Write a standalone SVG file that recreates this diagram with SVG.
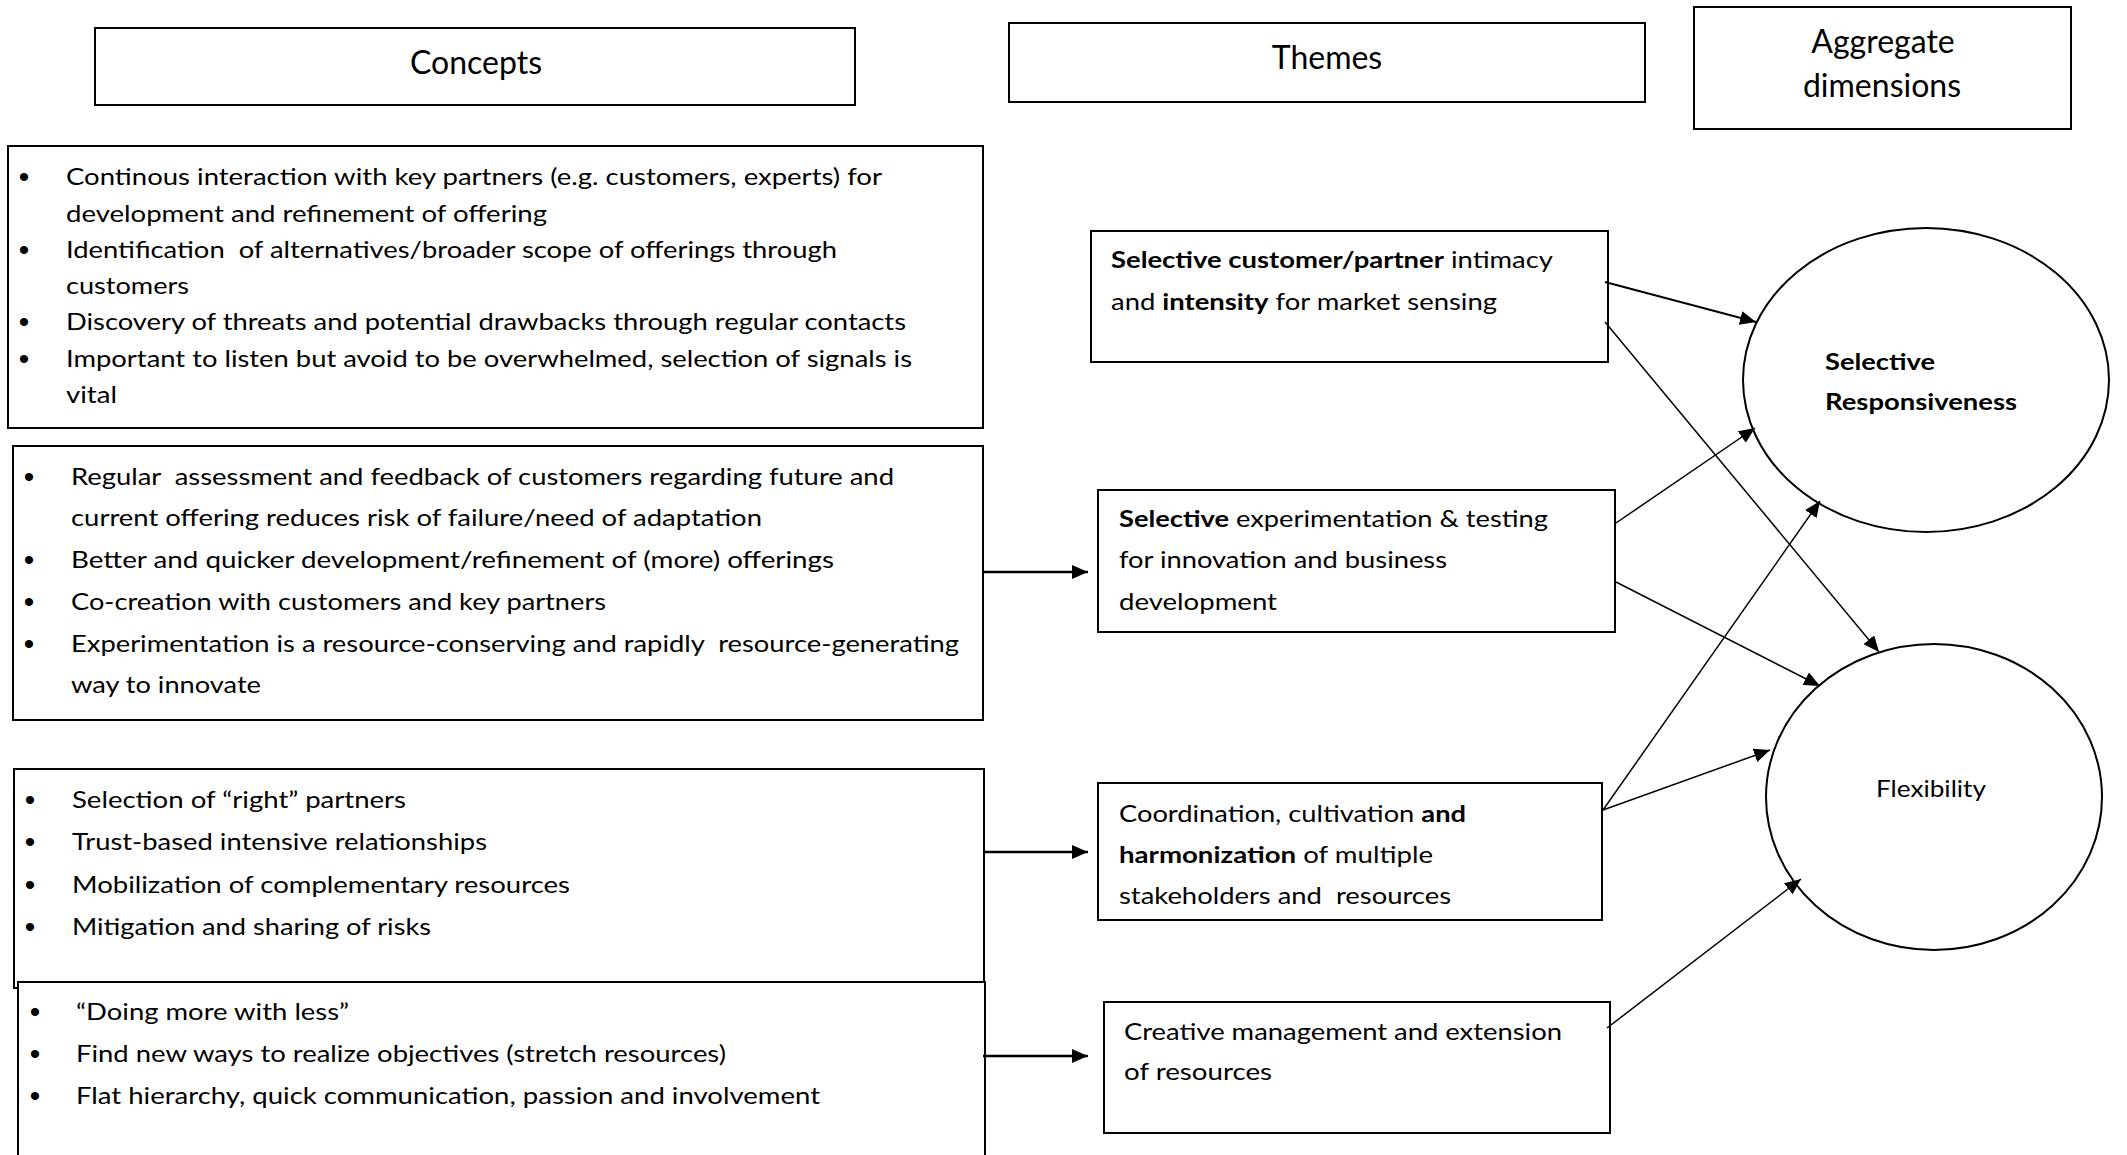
<svg xmlns="http://www.w3.org/2000/svg" width="2127" height="1155" viewBox="0 0 2127 1155">
<defs>
<marker id="ah" markerUnits="userSpaceOnUse" markerWidth="16" markerHeight="14" refX="16" refY="7" orient="auto"><path d="M0,0 L16,7 L0,14 z" fill="#000"/></marker>
<style>
.box{fill:none;stroke:#000;stroke-width:2}
.el{fill:none;stroke:#000;stroke-width:2}
text{font-family:Lato,"Open Sans","Liberation Sans",sans-serif;fill:#000}
.t{font-size:24px}
.th{font-size:23px}
.b{font-weight:bold}
.hd{font-size:32px;text-anchor:middle}
.bu{font-size:30px;text-anchor:middle;font-family:"Liberation Sans",sans-serif}
.c{stroke:#000;stroke-width:1.5;fill:none}
.ch{stroke:#000;stroke-width:2.5;fill:none}
</style>
</defs>
<rect x="0" y="0" width="2127" height="1155" fill="#fff"/>

<g id="hdr-concepts">
<rect class="box" x="95" y="28" width="760" height="77"/>
<text class="hd" x="476" y="74">Concepts</text>
</g>
<g id="hdr-themes">
<rect class="box" x="1009" y="23" width="636" height="79"/>
<text class="hd" x="1327" y="69">Themes</text>
</g>
<g id="hdr-aggregate">
<rect class="box" x="1694" y="7" width="377" height="122"/>
<text class="hd" x="1883" y="53">Aggregate</text>
<text class="hd" x="1882" y="97">dimensions</text>
</g>

<g id="concept1">
<rect class="box" x="8" y="146" width="975" height="282"/>
<text class="bu" x="24" y="187">•</text>
<text class="t" x="66" y="185" textLength="816" lengthAdjust="spacingAndGlyphs">Continous interaction with key partners (e.g. customers, experts) for</text>
<text class="t" x="66" y="222" textLength="481" lengthAdjust="spacingAndGlyphs">development and refinement of offering</text>
<text class="bu" x="24" y="260">•</text>
<text class="t" x="66" y="258" textLength="771" lengthAdjust="spacingAndGlyphs" xml:space="preserve">Identification  of alternatives/broader scope of offerings through</text>
<text class="t" x="66" y="294" textLength="123" lengthAdjust="spacingAndGlyphs">customers</text>
<text class="bu" x="24" y="332">•</text>
<text class="t" x="66" y="330" textLength="840" lengthAdjust="spacingAndGlyphs">Discovery of threats and potential drawbacks through regular contacts</text>
<text class="bu" x="24" y="369">•</text>
<text class="t" x="66" y="367" textLength="846" lengthAdjust="spacingAndGlyphs">Important to listen but avoid to be overwhelmed, selection of signals is</text>
<text class="t" x="66" y="403" textLength="51" lengthAdjust="spacingAndGlyphs">vital</text>
</g>

<g id="concept2">
<rect class="box" x="13" y="446" width="970" height="274"/>
<text class="bu" x="29" y="487">•</text>
<text class="t" x="71" y="485" textLength="823" lengthAdjust="spacingAndGlyphs" xml:space="preserve">Regular  assessment and feedback of customers regarding future and</text>
<text class="t" x="71" y="526" textLength="691" lengthAdjust="spacingAndGlyphs">current offering reduces risk of failure/need of adaptation</text>
<text class="bu" x="29" y="570">•</text>
<text class="t" x="71" y="568" textLength="763" lengthAdjust="spacingAndGlyphs">Better and quicker development/refinement of (more) offerings</text>
<text class="bu" x="29" y="612">•</text>
<text class="t" x="71" y="610" textLength="535" lengthAdjust="spacingAndGlyphs">Co-creation with customers and key partners</text>
<text class="bu" x="29" y="654">•</text>
<text class="t" x="71" y="652" textLength="888" lengthAdjust="spacingAndGlyphs" xml:space="preserve">Experimentation is a resource-conserving and rapidly  resource-generating</text>
<text class="t" x="71" y="693" textLength="190" lengthAdjust="spacingAndGlyphs">way to innovate</text>
</g>

<g id="concept3">
<rect class="box" x="14" y="769" width="970" height="219"/>
<text class="bu" x="30" y="810">•</text>
<text class="t" x="72" y="808" textLength="334" lengthAdjust="spacingAndGlyphs">Selection of “right” partners</text>
<text class="bu" x="30" y="852">•</text>
<text class="t" x="72" y="850" textLength="415" lengthAdjust="spacingAndGlyphs">Trust-based intensive relationships</text>
<text class="bu" x="30" y="895">•</text>
<text class="t" x="72" y="893" textLength="498" lengthAdjust="spacingAndGlyphs">Mobilization of complementary resources</text>
<text class="bu" x="30" y="937">•</text>
<text class="t" x="72" y="935" textLength="359" lengthAdjust="spacingAndGlyphs">Mitigation and sharing of risks</text>
</g>

<g id="concept4">
<rect class="box" style="fill:#fff" x="18" y="982" width="967" height="190"/>
<text class="bu" x="35" y="1022">•</text>
<text class="t" x="76" y="1020" textLength="273" lengthAdjust="spacingAndGlyphs">“Doing more with less”</text>
<text class="bu" x="35" y="1064">•</text>
<text class="t" x="76" y="1062" textLength="650" lengthAdjust="spacingAndGlyphs">Find new ways to realize objectives (stretch resources)</text>
<text class="bu" x="35" y="1106">•</text>
<text class="t" x="76" y="1104" textLength="744" lengthAdjust="spacingAndGlyphs">Flat hierarchy, quick communication, passion and involvement</text>
</g>

<g id="theme1">
<rect class="box" x="1091" y="231" width="517" height="131"/>
<text class="th" x="1111" y="268" textLength="442" lengthAdjust="spacingAndGlyphs"><tspan class="b">Selective customer/partner</tspan> intimacy</text>
<text class="th" x="1111" y="310" textLength="386" lengthAdjust="spacingAndGlyphs">and <tspan class="b">intensity</tspan> for market sensing</text>
</g>

<g id="theme2">
<rect class="box" x="1098" y="490" width="517" height="142"/>
<text class="th" x="1119" y="527" textLength="429" lengthAdjust="spacingAndGlyphs"><tspan class="b">Selective</tspan> experimentation &amp; testing</text>
<text class="th" x="1119" y="568" textLength="328" lengthAdjust="spacingAndGlyphs">for innovation and business</text>
<text class="th" x="1119" y="610" textLength="158" lengthAdjust="spacingAndGlyphs">development</text>
</g>

<g id="theme3">
<rect class="box" x="1098" y="783" width="504" height="137"/>
<text class="th" x="1119" y="822" textLength="347" lengthAdjust="spacingAndGlyphs">Coordination, cultivation <tspan class="b">and</tspan></text>
<text class="th" x="1119" y="863" textLength="314" lengthAdjust="spacingAndGlyphs"><tspan class="b">harmonization</tspan> of multiple</text>
<text class="th" x="1119" y="904" textLength="332" lengthAdjust="spacingAndGlyphs" xml:space="preserve">stakeholders and  resources</text>
</g>

<g id="theme4">
<rect class="box" x="1104" y="1002" width="506" height="131"/>
<text class="th" x="1124" y="1040" textLength="438" lengthAdjust="spacingAndGlyphs">Creative management and extension</text>
<text class="th" x="1124" y="1080" textLength="148" lengthAdjust="spacingAndGlyphs">of resources</text>
</g>

<g id="dim-selective-responsiveness">
<ellipse class="el" cx="1926" cy="380" rx="183" ry="152"/>
<text class="th b" x="1825" y="370" textLength="110" lengthAdjust="spacingAndGlyphs">Selective</text>
<text class="th b" x="1825" y="410" textLength="192" lengthAdjust="spacingAndGlyphs">Responsiveness</text>
</g>

<g id="dim-flexibility">
<ellipse class="el" cx="1934" cy="797" rx="168" ry="153"/>
<text class="th" x="1876" y="797" textLength="110" lengthAdjust="spacingAndGlyphs">Flexibility</text>
</g>

<g id="connectors">
<line class="ch" x1="983" y1="572" x2="1088" y2="572" marker-end="url(#ah)"/>
<line class="ch" x1="984" y1="852" x2="1088" y2="852" marker-end="url(#ah)"/>
<line class="ch" x1="983" y1="1056" x2="1088" y2="1056" marker-end="url(#ah)"/>
<line class="c" style="stroke-width:2" x1="1605" y1="282" x2="1756" y2="322" marker-end="url(#ah)"/>
<line class="c" x1="1605" y1="322" x2="1879" y2="652" marker-end="url(#ah)"/>
<line class="c" x1="1616" y1="523" x2="1755" y2="428" marker-end="url(#ah)"/>
<line class="c" x1="1616" y1="582" x2="1820" y2="686" marker-end="url(#ah)"/>
<line class="c" x1="1603" y1="810" x2="1820" y2="501" marker-end="url(#ah)"/>
<line class="c" x1="1603" y1="810" x2="1770" y2="750" marker-end="url(#ah)"/>
<line class="c" x1="1607" y1="1028" x2="1801" y2="879" marker-end="url(#ah)"/>
</g>
</svg>
